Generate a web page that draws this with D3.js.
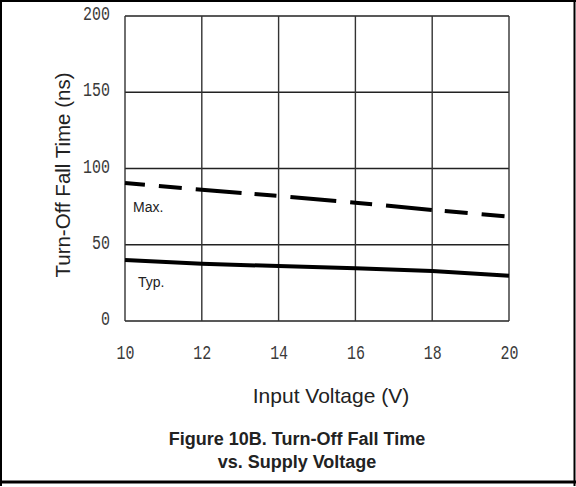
<!DOCTYPE html>
<html>
<head>
<meta charset="utf-8">
<script src="https://cdn.jsdelivr.net/npm/d3@7/dist/d3.min.js"></script>
<style>
  html, body { margin: 0; padding: 0; background: #fff; }
  svg { display: block; }
</style>
</head>
<body>
<script>
// ---- data ----
const voltages = [10, 12, 14, 16, 18, 20];
const maxFallTime = [90.5, 86, 82, 77.6, 72.8, 68.4];
const typFallTime = [40, 37.6, 36, 34.6, 32.8, 29.7];
const xTicks = [10, 12, 14, 16, 18, 20];
const yTicks = [0, 50, 100, 150, 200];
const seriesLabels = ["Max.", "Typ."];
const xTitle = "Input Voltage (V)";
const yTitle = "Turn-Off Fall Time (ns)";
const captionLines = ["Figure 10B. Turn-Off Fall Time", "vs. Supply Voltage"];

const W = 576, H = 487;
const svg = d3.select("body").append("svg").attr("width", W).attr("height", H);

const x = d3.scaleLinear().domain([10, 20]).range([125, 509]);
const y = d3.scaleLinear().domain([0, 200]).range([321, 16]);

// outer border
svg.append("line").attr("x1", 1).attr("x2", 1).attr("y1", 0).attr("y2", 486).attr("stroke", "#000").attr("stroke-width", 2);
svg.append("line").attr("x1", 0).attr("x2", W).attr("y1", 1).attr("y2", 1).attr("stroke", "#000").attr("stroke-width", 2);
svg.append("line").attr("x1", 574.5).attr("x2", 574.5).attr("y1", 0).attr("y2", 486).attr("stroke", "#000").attr("stroke-width", 2);
svg.append("line").attr("x1", 0).attr("x2", W).attr("y1", 482).attr("y2", 482).attr("stroke", "#000").attr("stroke-width", 3);

// grid
const grid = svg.append("g");
grid.selectAll("line.h").data(yTicks).join("line")
  .attr("x1", x(10)).attr("x2", x(20))
  .attr("y1", d => y(d)).attr("y2", d => y(d))
  .attr("stroke", "#222").attr("stroke-width", 1.4);
grid.selectAll("line.v").data(xTicks).join("line")
  .attr("y1", y(0)).attr("y2", y(200))
  .attr("x1", d => x(d)).attr("x2", d => x(d))
  .attr("stroke", "#333").attr("stroke-width", 1.4);

// axes (tick labels)
const monoFont = "'Liberation Mono', 'DejaVu Sans Mono', monospace";
const yAxis = svg.append("g").attr("transform", `translate(${x(10)},0)`)
  .call(d3.axisLeft(y).tickValues(yTicks).tickSize(0).tickPadding(15));
yAxis.select(".domain").remove();
yAxis.selectAll("text")
  .attr("font-family", monoFont).attr("font-size", 17).attr("fill", "#3a3a3a")
  .attr("dy", null)
  .attr("x", null)
  .attr("transform", "translate(-15,3.5) scale(0.88,1.16)");

const xAxis = svg.append("g").attr("transform", `translate(0,${y(0)})`)
  .call(d3.axisBottom(x).tickValues(xTicks).tickSize(0).tickFormat(d3.format("d")));
xAxis.select(".domain").remove();
xAxis.selectAll("text")
  .attr("font-family", monoFont).attr("font-size", 17).attr("fill", "#3a3a3a")
  .attr("y", null).attr("dy", null)
  .attr("transform", "translate(0,38) scale(0.88,1.16)");

// lines
const line = d3.line().x(d => x(d[0])).y(d => y(d[1]));
svg.append("path")
  .datum(voltages.map((v, i) => [v, maxFallTime[i]]))
  .attr("d", line).attr("fill", "none").attr("stroke", "#000").attr("stroke-width", 4)
  .attr("stroke-dasharray", "20,14,23,14,46,13,22,14,46,14,22,14,46,13,23,14,23,20");
svg.append("path")
  .datum(voltages.map((v, i) => [v, typFallTime[i]]))
  .attr("d", line).attr("fill", "none").attr("stroke", "#000").attr("stroke-width", 4);

// series labels
const sansFont = "'Liberation Sans', Arial, sans-serif";
svg.append("text").attr("x", 133).attr("y", 212).text(seriesLabels[0])
  .attr("font-family", sansFont).attr("font-size", 14).attr("fill", "#222");
svg.append("text").attr("x", 138).attr("y", 287).text(seriesLabels[1])
  .attr("font-family", sansFont).attr("font-size", 14).attr("fill", "#222");

// axis titles
svg.append("text").attr("x", 331).attr("y", 403).attr("text-anchor", "middle")
  .attr("font-family", sansFont).attr("font-size", 21).attr("fill", "#222").text(xTitle);
svg.append("text").attr("transform", "translate(70,175) rotate(-90)").attr("text-anchor", "middle")
  .attr("font-family", sansFont).attr("font-size", 20.5).attr("fill", "#222").text(yTitle);

// caption
svg.selectAll("text.cap").data(captionLines).join("text")
  .attr("class", "cap")
  .attr("x", 297).attr("y", (d, i) => 445 + i * 23).attr("text-anchor", "middle")
  .attr("font-family", sansFont).attr("font-weight", "bold").attr("font-size", 18).attr("fill", "#222")
  .text(d => d);
</script>
</body>
</html>
